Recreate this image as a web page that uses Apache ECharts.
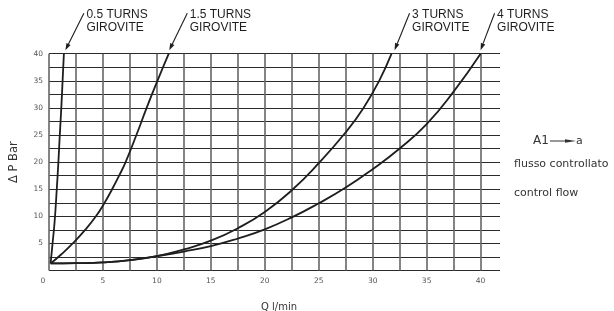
<!DOCTYPE html>
<html lang="en">
<head>
<meta charset="UTF-8">
<title>Girovite</title>
<script src="https://cdn.jsdelivr.net/npm/echarts@6/dist/echarts.min.js"></script>
<style>html,body{margin:0;padding:0;background:#fff;}</style>
</head>
<body>
<div id="main" style="width:614px;height:311px;"></div>
<script>
    // Q l/min vs delta P bar, one curve per girovite setting
    let turns05 = [[0.15, 1.3], [0.33, 5], [0.52, 9], [0.72, 15], [0.87, 20], [1.0, 25], [1.14, 30], [1.26, 35], [1.38, 40]];
    let turns15 = [[0.15, 1.3], [1.15, 3], [2.2, 5], [3.35, 7.5], [4.35, 10], [5.15, 12.5], [5.85, 15], [6.5, 17.5],
        [7.1, 20], [8.1, 25], [9.05, 30], [10.05, 35], [11.1, 40]];
    let turns3 = [[0.15, 1.3], [2.5, 1.35], [5, 1.5], [7.5, 1.9], [10, 2.65], [12.5, 3.9], [15, 5.5], [17.5, 7.8],
        [20, 10.8], [22.5, 14.8], [25, 19.8], [27.5, 25.5], [29.15, 30], [30.6, 35], [31.75, 40]];
    let turns4 = [[0.15, 1.3], [2.5, 1.35], [5, 1.5], [7.5, 1.9], [10, 2.65], [12.5, 3.5], [15, 4.5], [17.5, 5.9],
        [20, 7.6], [22.5, 9.8], [25, 12.4], [27.5, 15.3], [30, 18.7], [32.5, 22.5], [35, 27], [37.5, 33], [40, 40]];
    let curves = [turns05, turns15, turns3, turns4];
    let curveLabels = ['0.5 TURNS\nGIROVITE', '1.5 TURNS\nGIROVITE', '3 TURNS\nGIROVITE', '4 TURNS\nGIROVITE'];
    // leader line: [start dx, tip dx] in px from the curve end
    let leaderOffsets = [[20, 1.5], [18.5, 0.5], [18, 3], [14, 0]];
    let sideTexts = ['flusso controllato', 'control flow'];

    let chartDom = document.getElementById('main');
    let myChart = echarts.init(chartDom);
    let option;

    let series = curves.map(function (c, i) {
        return {
            name: curveLabels[i],
            type: 'line',
            data: c,
            smooth: 0.5,
            symbol: 'none',
            clip: false,
            lineStyle: {color: '#1e1e1e', width: 1.8},
            z: 5
        };
    });

    option = {
        animation: false,
        backgroundColor: '#fff',
        grid: {left: 45, right: 114, top: 53.7, bottom: 40.5},
        xAxis: {
            type: 'value',
            min: 0,
            max: 41.8,
            interval: 2.5,
            axisLine: {show: false},
            axisTick: {show: false},
            axisLabel: {
                margin: 7,
                fontFamily: 'DejaVu Sans',
                fontSize: 7.5,
                color: '#555',
                formatter: function (v) {
                    if (v === 0) return '{z|0}';
                    return (v % 5 === 0) ? String(v) : '';
                },
                rich: {z: {fontFamily: 'DejaVu Sans', fontSize: 7.5, color: '#555', padding: [0, 12, 0, 0]}}
            },
            splitLine: {show: true, showMaxLine: false, lineStyle: {color: '#666', width: 1.6}}
        },
        yAxis: {
            type: 'value',
            min: 0,
            max: 40,
            interval: 2.5,
            name: 'Δ P Bar',
            nameLocation: 'middle',
            nameGap: 29,
            nameRotate: 90,
            nameTextStyle: {fontFamily: 'DejaVu Sans', fontSize: 11.5, color: '#333'},
            axisLine: {show: false},
            axisTick: {show: false},
            axisLabel: {
                margin: 6,
                fontFamily: 'DejaVu Sans',
                fontSize: 7.5,
                color: '#555',
                formatter: function (v) {
                    return (v !== 0 && v % 5 === 0) ? String(v) : '';
                }
            },
            splitLine: {show: true, lineStyle: {color: '#2a2a2a', width: 1.2}}
        },
        series: series
    };
    myChart.setOption(option);

    // leader lines with arrowheads + labels, anchored on each curve's last point
    let graphics = [];
    curves.forEach(function (c, i) {
        let p = myChart.convertToPixel({gridIndex: 0}, c[c.length - 1]);
        let sx = p[0] + leaderOffsets[i][0], sy = p[1] - 40.5;
        let tx = p[0] + leaderOffsets[i][1], ty = p[1] - 3.5;
        let dx = tx - sx, dy = ty - sy;
        let len = Math.sqrt(dx * dx + dy * dy);
        let ux = dx / len, uy = dy / len;
        let bx = tx - ux * 7, by = ty - uy * 7;
        let nx = -uy * 2.3, ny = ux * 2.3;
        graphics.push({
            type: 'line',
            shape: {x1: sx, y1: sy, x2: bx, y2: by},
            style: {stroke: '#1e1e1e', lineWidth: 1.1}
        });
        graphics.push({
            type: 'polygon',
            shape: {points: [[tx, ty], [bx + nx, by + ny], [bx - nx, by - ny]]},
            style: {fill: '#1e1e1e'}
        });
        graphics.push({
            type: 'text',
            style: {
                text: curveLabels[i],
                x: sx + 2.5,
                y: sy - 5,
                fill: '#1e1e1e',
                font: '12px "Liberation Sans"',
                lineHeight: 13,
                verticalAlign: 'top'
            }
        });
    });

    // x axis name
    graphics.push({
        type: 'text',
        style: {text: 'Q l/min', x: 279, y: 307, fill: '#333', font: '10px "DejaVu Sans"', align: 'center', verticalAlign: 'middle'}
    });

    // side notes
    graphics.push({
        type: 'text',
        style: {text: 'A1', x: 533, y: 141, fill: '#333', font: '12px "DejaVu Sans"', verticalAlign: 'middle'}
    });
    graphics.push({
        type: 'line',
        shape: {x1: 550, y1: 141, x2: 567, y2: 141},
        style: {stroke: '#333', lineWidth: 1}
    });
    graphics.push({
        type: 'polygon',
        shape: {points: [[576, 141], [565, 139.3], [565, 142.7]]},
        style: {fill: '#333'}
    });
    graphics.push({
        type: 'text',
        style: {text: 'a', x: 576, y: 141, fill: '#333', font: '11px "DejaVu Sans"', verticalAlign: 'middle'}
    });
    sideTexts.forEach(function (t, i) {
        graphics.push({
            type: 'text',
            style: {text: t, x: 514, y: 164 + i * 29, fill: '#333', font: '11px "DejaVu Sans"', verticalAlign: 'middle'}
        });
    });

    myChart.setOption({graphic: graphics});
</script>
</body>
</html>
